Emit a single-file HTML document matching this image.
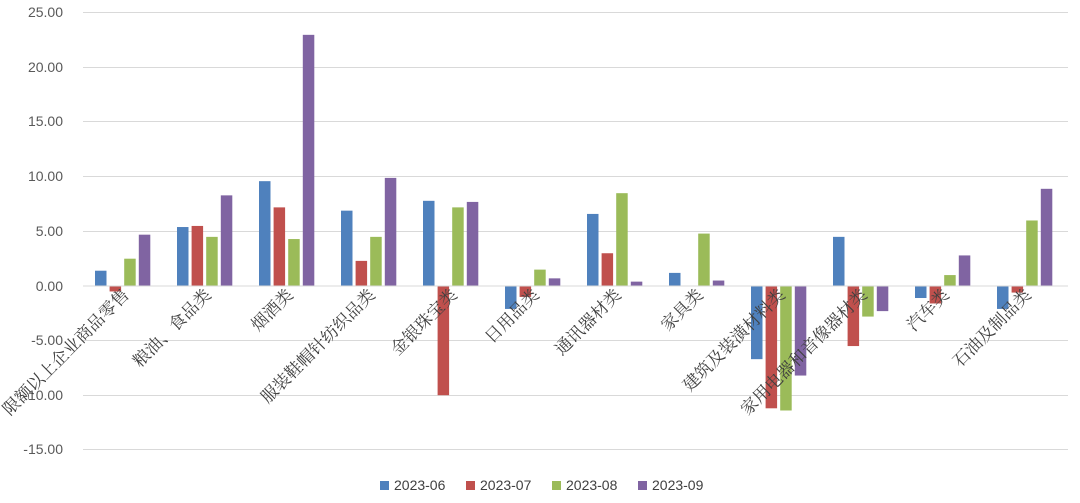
<!DOCTYPE html>
<html><head><meta charset="utf-8"><style>
html,body{margin:0;padding:0;background:#fff;}
svg{display:block;}
</style></head><body>
<svg width="1080" height="503" xmlns="http://www.w3.org/2000/svg" font-family="Liberation Sans, sans-serif">
<g stroke="#d9d9d9" stroke-width="1">
<line x1="83" x2="1068" y1="12.5" y2="12.5"/>
<line x1="83" x2="1068" y1="67.5" y2="67.5"/>
<line x1="83" x2="1068" y1="121.5" y2="121.5"/>
<line x1="83" x2="1068" y1="176.5" y2="176.5"/>
<line x1="83" x2="1068" y1="231.5" y2="231.5"/>
<line x1="83" x2="1068" y1="340.5" y2="340.5"/>
<line x1="83" x2="1068" y1="395.5" y2="395.5"/>
<line x1="83" x2="1068" y1="449.5" y2="449.5"/>
</g>
<g font-size="14" fill="#595959" text-anchor="end">
<text x="63" y="17">25.00</text>
<text x="63" y="72">20.00</text>
<text x="63" y="126">15.00</text>
<text x="63" y="181">10.00</text>
<text x="63" y="236">5.00</text>
<text x="63" y="291">0.00</text>
<text x="63" y="345">-5.00</text>
<text x="63" y="400">-10.00</text>
<text x="63" y="454">-15.00</text>
</g>
<g id="bars"></g>
<line x1="83" x2="1068" y1="286" y2="286" stroke="#d9d9d9"/>
<g id="labels" font-family="Noto Serif CJK SC, serif" font-size="17" fill="#404040" text-anchor="end"></g>
<g font-size="14" fill="#404040">
<rect x="380" y="481" width="9" height="9" fill="#4f81bd"/><text x="394" y="490">2023-06</text>
<rect x="466" y="481" width="9" height="9" fill="#c0504d"/><text x="480" y="490">2023-07</text>
<rect x="552" y="481" width="9" height="9" fill="#9bbb59"/><text x="566" y="490">2023-08</text>
<rect x="638" y="481" width="9" height="9" fill="#8064a2"/><text x="652" y="490">2023-09</text>
</g>
<script>
var d=[[1.4,-0.5,2.5,4.7],[5.4,5.5,4.5,8.3],[9.6,7.2,4.3,23.0],[6.9,2.3,4.5,9.9],[7.8,-10.0,7.2,7.7],[-2.1,-1.0,1.5,0.7],[6.6,3.0,8.5,0.4],[1.2,0,4.8,0.5],[-6.7,-11.2,-11.4,-8.2],[4.5,-5.5,-2.8,-2.3],[-1.1,-1.6,1.0,2.8],[-2.1,-0.6,6.0,8.9]];
var names=["限额以上企业商品零售","粮油、食品类","烟酒类","服装鞋帽针纺织品类","金银珠宝类","日用品类","通讯器材类","家具类","建筑及装潢材料类","家用电器和音像器材类","汽车类","石油及制品类"];
var c=["#4f81bd","#c0504d","#9bbb59","#8064a2"];
var ns="http://www.w3.org/2000/svg",b=document.getElementById("bars"),l=document.getElementById("labels");
var z=286,s=10.92;
d.forEach(function(r,i){var cx=124+i*82;
r.forEach(function(v,j){var e=document.createElementNS(ns,"rect");var x=cx-29+j*14.6;
e.setAttribute("x",x);e.setAttribute("width",11.5);
var y=v>=0?z-v*s:z;e.setAttribute("y",y);e.setAttribute("height",Math.abs(v)*s);e.setAttribute("fill",c[j]);b.appendChild(e);});
var t=document.createElementNS(ns,"text");t.setAttribute("transform","translate("+(cx+6)+",296) rotate(-45)");t.textContent=names[i];l.appendChild(t);});
</script>
</svg>
</body></html>
